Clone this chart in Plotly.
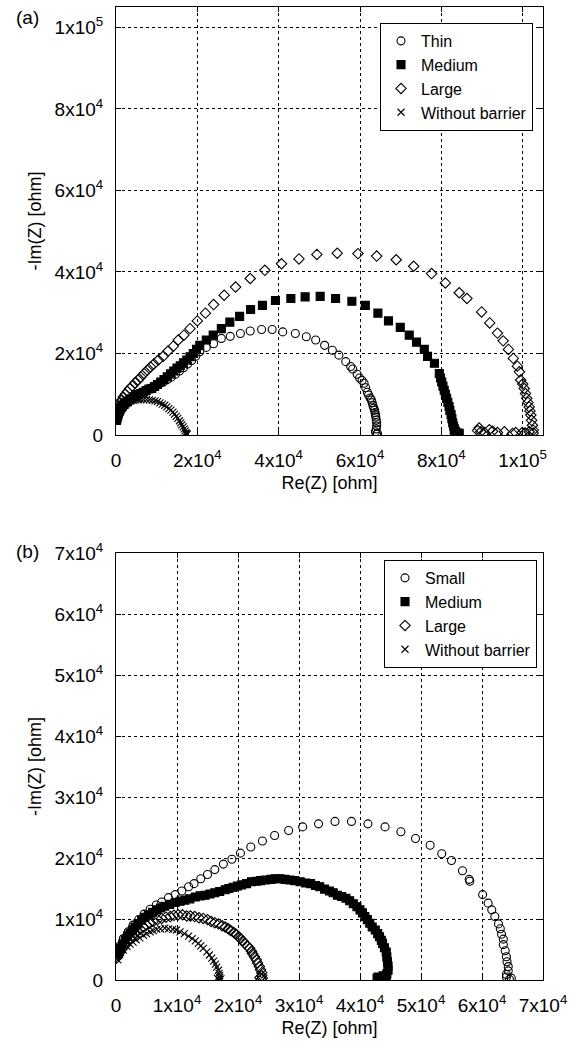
import plotly.graph_objects as go

# ---------------- Panel (a) data (ohm) ----------------
a_thin_re = [200, 400, 700, 1000, 1400, 1900, 2500, 3200, 4000, 4800, 5700, 6600, 7600, 8600, 9600,
             10600, 11600, 12600, 13600, 14600, 15600, 16600, 17600, 18600, 19600, 20600, 22200,
             24000, 25900, 28100, 30600, 33000, 35800, 38400, 41000, 44100, 46800, 49100, 51300,
             53200, 54800, 56500, 57700, 58200, 59300, 59900, 60500, 61000, 61400, 61800, 62100,
             62500, 62800, 63000, 63200, 63400, 63600, 63700, 63800, 63900, 64000, 64100, 64100,
             64000, 63800, 64300, 64100]
a_thin_im = [3800, 4700, 5600, 6300, 7000, 7600, 8200, 8700, 9200, 9600, 10100, 10500, 11000, 11500, 12000,
             12500, 13000, 13600, 14200, 14900, 15700, 16500, 17400, 18300, 19300, 20400, 21500,
             22400, 23700, 24200, 24900, 25500, 25900, 25900, 25300, 24900, 24100, 23300, 22000,
             20800, 19600, 18000, 16800, 16200, 14900, 14000, 13400, 12700, 11600, 10500, 9800,
             9100, 8600, 7900, 7200, 6600, 6100, 5500, 5000, 4400, 3700, 3000, 2200,
             1500, 800, 400, 200]

a_med_re = [100, 200, 300, 450, 600, 800, 1000, 1300, 1600, 2000, 2400, 2800, 3300, 3800, 4300, 4900,
            5500, 6100, 6700, 7400, 8100, 8800, 9500, 10200, 11000, 11800, 12600, 13400, 14200, 15000,
            15800, 16600, 17400, 18200, 19000, 19800, 20600, 22200, 23900, 25900, 28000, 30400, 33100,
            36000, 39200, 43000, 46500, 50200, 54000, 58000, 61300, 64400, 67000, 69900, 72100, 73900,
            75800, 76600, 78300, 79500, 79800, 80100, 80400, 80700, 81000, 81300, 81600, 81900, 82100,
            82400, 82600, 82800, 83000, 83200, 83500, 84000, 84400, 83200, 83800]
a_med_im = [3600, 3900, 4300, 4800, 5300, 5800, 6200, 6700, 7100, 7500, 7900, 8200, 8600, 8900, 9200, 9600,
            9900, 10200, 10500, 10900, 11300, 11400, 11900, 12400, 13000, 13600, 14300, 15000, 15700, 16400,
            17000, 17700, 18400, 19200, 20000, 21000, 22000, 23300, 24500, 26100, 27700, 29100, 30800,
            31800, 33000, 33500, 33900, 34000, 33500, 32800, 31800, 29900, 28000, 26400, 24500, 22800,
            21000, 19300, 17600, 15100, 14000, 13000, 12000, 11000, 10000, 9000, 8000, 7000, 6000,
            5000, 4000, 3000, 2200, 1500, 900, 500, 400, 300, 200]

a_large_re = [0, 100, 250, 450, 700, 1000, 1400, 1800, 2300, 2800, 3400, 4000, 4700, 5400, 6100, 6900,
              7700, 8500, 9300, 10400, 11600, 12800, 14100, 15300, 16700, 18200, 20000, 22000, 24000,
              26600, 29400, 33000, 36600, 40700, 45000, 49400, 54400, 59500, 64100, 68900, 73200,
              77600, 81000, 84400, 86300, 89900, 91900, 93800, 95200, 96500, 97700, 98700, 99200,
              99500, 100000, 100400, 100700, 101000, 101300, 101600, 101800, 102000, 102200, 102400,
              102600, 102600, 101600, 100600, 99900, 98300, 97500, 95500, 93800, 92600, 91800, 90600,
              89700, 89300, 88900]
a_large_im = [3900, 4700, 5500, 6300, 7100, 7900, 8600, 9300, 10000, 10700, 11400, 12000, 12800, 13500,
              14200, 15100, 15900, 16700, 17400, 18400, 19300, 20600, 21800, 23300, 24500, 26100, 28000,
              29900, 32000, 34300, 36300, 38400, 40400, 42000, 43200, 44300, 44600, 44500, 43900, 43000,
              41400, 39600, 37300, 34900, 33500, 30200, 27500, 25000, 23100, 21000, 18800, 16900, 15500,
              13500, 12500, 11400, 10200, 9000, 8000, 6900, 5900, 4900, 3600, 2400,
              1200, 500, 800, 500, 600, 600, 400, 800, 600, 900, 1300, 600,
              800, 1700, 1100]

a_nob_re = [100, 250, 450, 700, 1000, 1300, 1700, 2100, 2600, 3100, 3700, 4300, 4900, 5500, 6100, 6800,
            7500, 8200, 8900, 9600, 10200, 10800, 11400, 12000, 12500, 13000, 13500, 14000, 14400, 14800,
            15200, 15600, 15900, 16200, 16500, 16800, 17000, 17200, 17300, 17400, 17100, 17500]
a_nob_im = [4300, 5000, 5600, 6100, 6600, 7000, 7400, 7700, 8000, 8200, 8400, 8500, 8600, 8700, 8700, 8700,
            8700, 8600, 8500, 8400, 8200, 7900, 7600, 7300, 6900, 6500, 6100, 5600, 5100, 4600,
            4100, 3500, 3000, 2500, 2000, 1500, 1000, 600, 300, 100, 400, 200]

# ---------------- Panel (b) data (ohm) ----------------
b_small_re = [100, 500, 1200, 2000, 2800, 3700, 4600, 5600, 6600, 7500, 8600, 9700, 10800, 11900,
              12800, 13900, 15000, 16200, 17600, 19000, 20400, 22100, 24000, 26000, 28300, 30600,
              33200, 35900, 38600, 41300, 44100, 46700, 49100, 51500, 53400, 55000, 56800, 57900,
              58000, 60100, 61000, 61600, 62100, 62700, 63000, 63200, 63500, 63500, 63800, 64000,
              64100, 64300, 64300, 64000, 64000, 64800, 64500]
b_small_im = [4400, 5500, 6800, 7900, 9000, 9900, 10800, 11600, 12300, 12800, 13500, 14000, 14600, 15300,
              15800, 16600, 17300, 18100, 19000, 19800, 20800, 21800, 22800, 23700, 24500, 25100,
              25600, 26000, 26000, 25600, 25100, 24300, 23200, 22100, 20700, 19600, 17900, 16500,
              16200, 14000, 12600, 11500, 10400, 9200, 8400, 7500, 6700, 5800, 4800, 3800,
              3000, 2200, 1500, 900, 500, 300, 100]

b_med_re = [100, 400, 700, 1100, 1500, 1900, 2300, 2700, 3100, 3600, 4200, 4700, 5300, 6000, 6700,
            7300, 8000, 8800, 9700, 10500, 11300, 12100, 13000, 13800, 14600, 15400, 16200, 17000,
            17900, 18500, 19200, 19900, 20600, 21400, 22200, 23000, 23700, 24500, 25400, 26100,
            26900, 27700, 28500, 29300, 30200, 31100, 31900, 32700, 33400, 34200, 35000, 35600,
            36300, 37000, 37700, 38300, 38900, 39500, 40000, 40400, 40800, 41200, 41600, 42000,
            42500, 42900, 43200, 43500, 43700, 44000, 44300, 44400, 44500, 44600, 44600, 44400,
            43800, 43000, 42800, 43800, 44300, 44100]
b_med_im = [4100, 4700, 5200, 5900, 6600, 7200, 7700, 8200, 8700, 9200, 9800, 10300, 10700, 11100, 11500,
            11800, 12100, 12400, 12700, 12900, 13100, 13300, 13600, 13800, 13900, 14100, 14300, 14500,
            14800, 15000, 15200, 15400, 15600, 15800, 16100, 16200, 16300, 16400, 16500, 16600,
            16600, 16500, 16400, 16300, 16100, 15900, 15800, 15500, 15300, 14900, 14600, 14300,
            13900, 13700, 13400, 13000, 12500, 12000, 11500, 11000, 10400, 9900, 9300, 8700,
            8200, 7600, 7100, 6500, 6000, 5300, 4600, 3800, 3000, 2300, 1600, 1000,
            700, 500, 300, 200, 100, 0]

b_large_re = [100, 400, 700, 1100, 1500, 1900, 2300, 2700, 3100, 3500, 4000, 4500, 5000, 5500, 6100,
              6800, 7500, 8200, 8900, 9500, 10200, 10900, 11600, 12200, 12900, 13600, 14300, 15000,
              15600, 16200, 16800, 17400, 17900, 18400, 18800, 19300, 19700, 20100, 20400, 20800,
              21100, 21500, 21900, 22200, 22400, 22700, 23000, 23200, 23500, 23700, 23900, 23900,
              23600, 24000, 23800]
b_large_im = [3600, 4100, 4600, 5200, 5700, 6300, 6800, 7300, 7700, 8000, 8300, 8700, 9000, 9300, 9600,
              9900, 10100, 10300, 10400, 10600, 10700, 10700, 10500, 10500, 10400, 10200, 10100, 9900,
              9600, 9400, 9200, 8900, 8700, 8400, 8100, 7800, 7500, 7100, 6800, 6400,
              6000, 5600, 5200, 4700, 4300, 3800, 3300, 2800, 2200, 1700, 1200, 700,
              400, 300, 100]

b_nob_re = [300, 600, 1200, 1800, 2300, 2800, 3300, 3900, 4500, 5000, 5600, 6100, 6700, 7300, 8000,
            8600, 9300, 9900, 10500, 11200, 11900, 12500, 13000, 13500, 13900, 14300, 14900, 15300,
            15700, 16000, 16300, 16500, 16800, 16900, 17000, 17000, 16600, 17200, 16900]
b_nob_im = [3300, 4200, 4900, 5500, 5900, 6200, 6600, 6900, 7300, 7600, 7900, 8100, 8300, 8400, 8500,
            8400, 8300, 8200, 7900, 7600, 7200, 6800, 6400, 6000, 5600, 5200, 4600, 4100,
            3600, 3100, 2600, 2100, 1600, 1100, 700, 400, 300, 200, 0]

a_ticks = [0, 20000, 40000, 60000, 80000, 100000]
a_ticktext = ["0", "2x10<sup>4</sup>", "4x10<sup>4</sup>", "6x10<sup>4</sup>", "8x10<sup>4</sup>", "1x10<sup>5</sup>"]
b_ticks = [0, 10000, 20000, 30000, 40000, 50000, 60000, 70000]
b_ticktext = ["0"] + ["%dx10<sup>4</sup>" % i for i in range(1, 8)]

FONT = "Liberation Sans, Arial, sans-serif"

fig = go.Figure()

def add(xs, ys, name, symbol, size, xa, ya, leg):
    fig.add_trace(go.Scatter(
        x=xs, y=ys, mode="markers", name=name, xaxis=xa, yaxis=ya, legend=leg,
        marker=dict(symbol=symbol, size=size, color="black",
                    line=dict(color="black", width=1.1)),
    ))

add(a_thin_re, a_thin_im, "Thin", "circle-open", 8, "x", "y", "legend")
add(a_med_re, a_med_im, "Medium", "square", 8, "x", "y", "legend")
add(a_large_re, a_large_im, "Large", "diamond-open", 8, "x", "y", "legend")
add(a_nob_re, a_nob_im, "Without barrier", "x-thin-open", 7, "x", "y", "legend")

add(b_small_re, b_small_im, "Small", "circle-open", 8, "x2", "y2", "legend2")
add(b_med_re, b_med_im, "Medium", "square", 8, "x2", "y2", "legend2")
add(b_large_re, b_large_im, "Large", "diamond-open", 8, "x2", "y2", "legend2")
add(b_nob_re, b_nob_im, "Without barrier", "x-thin-open", 7, "x2", "y2", "legend2")

axis_common = dict(
    showline=True, linecolor="black", linewidth=1, mirror="ticks",
    ticks="inside", ticklen=5, tickcolor="black",
    showgrid=True, gridcolor="black", gridwidth=1, griddash="dot",
    zeroline=False, tickfont=dict(family=FONT, size=19, color="black"),
    ticklabelstandoff=8,
)

fig.update_layout(
    width=580, height=1054,
    margin=dict(l=116, r=37, t=7, b=74, autoexpand=False),
    plot_bgcolor="white", paper_bgcolor="white",
    font=dict(family=FONT, color="black"),
    xaxis=dict(domain=[0, 1], anchor="y", range=[0, 105000], tickvals=a_ticks, ticktext=a_ticktext,
               title=dict(text="Re(Z) [ohm]", font=dict(size=18), standoff=6), **axis_common),
    yaxis=dict(domain=[0.5601, 1], anchor="x", range=[0, 105000], tickvals=a_ticks, ticktext=a_ticktext,
               title=dict(text="-Im(Z) [ohm]", font=dict(size=18), standoff=8), **axis_common),
    xaxis2=dict(domain=[0, 1], anchor="y2", range=[0, 70000], tickvals=b_ticks, ticktext=b_ticktext,
                title=dict(text="Re(Z) [ohm]", font=dict(size=18), standoff=6), **axis_common),
    yaxis2=dict(domain=[0, 0.4388], anchor="x2", range=[0, 70000], tickvals=b_ticks, ticktext=b_ticktext,
                title=dict(text="-Im(Z) [ohm]", font=dict(size=18), standoff=8), **axis_common),
    legend=dict(x=0.9766, y=0.9836, xanchor="right", yanchor="top", bgcolor="white",
                bordercolor="black", borderwidth=1, font=dict(family=FONT, size=16),
                itemwidth=30, tracegroupgap=0),
    legend2=dict(x=0.986, y=0.4317, xanchor="right", yanchor="top", bgcolor="white",
                 bordercolor="black", borderwidth=1, font=dict(family=FONT, size=16),
                 itemwidth=30, tracegroupgap=0),
    showlegend=True,
    annotations=[
        dict(text="(a)", x=-0.208, y=0.9887, xref="paper", yref="paper", showarrow=False,
             font=dict(family=FONT, size=19), xanchor="center", yanchor="middle"),
        dict(text="(b)", x=-0.208, y=0.4399, xref="paper", yref="paper", showarrow=False,
             font=dict(family=FONT, size=19), xanchor="center", yanchor="middle"),
    ],
)

fig.write_html("out.html")
